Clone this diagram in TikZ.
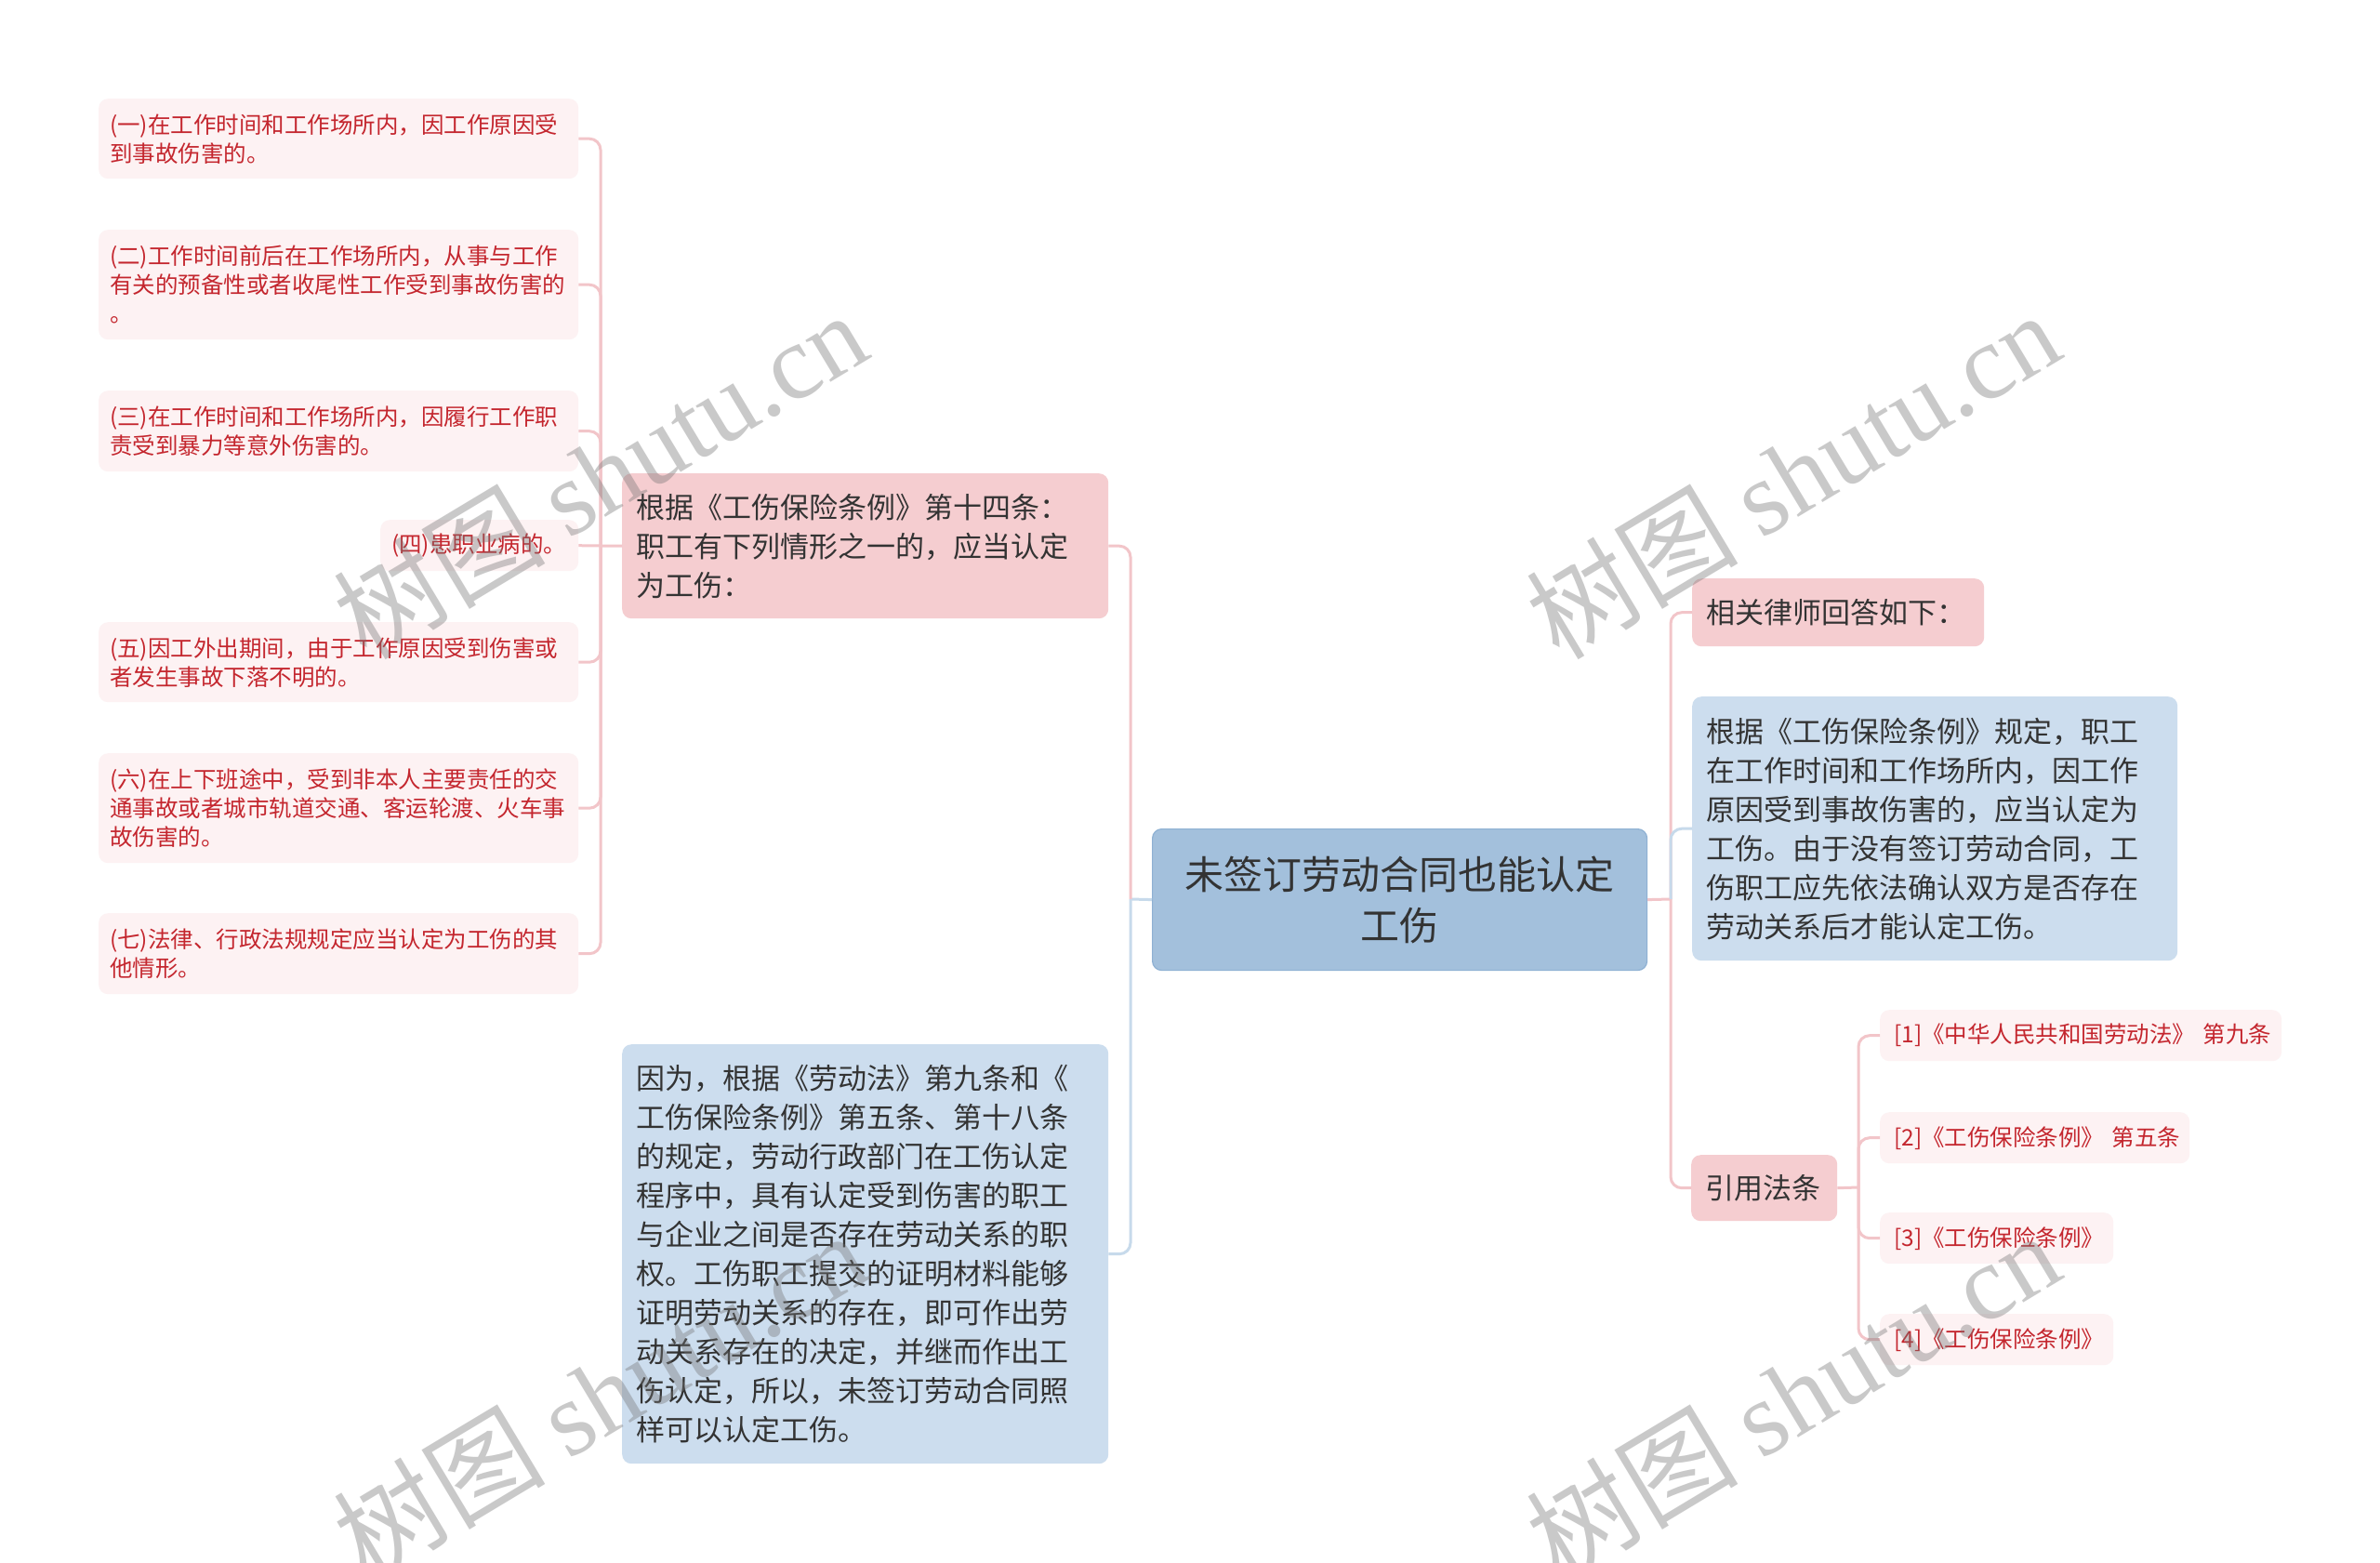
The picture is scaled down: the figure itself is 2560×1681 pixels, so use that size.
\documentclass[tikz,border=0pt]{standalone}
\usepackage{fontspec}
\setmainfont{Noto Sans CJK SC}
\newfontfamily\wmserif{Liberation Serif}
\definecolor{rootfill}{HTML}{A3C0DC}
\definecolor{rootdraw}{HTML}{8FB1D3}
\definecolor{pinkfill}{HTML}{F5CDD0}
\definecolor{bluefill}{HTML}{CCDDEE}
\definecolor{leaffill}{HTML}{FDF2F3}
\definecolor{leaftext}{HTML}{C4262E}
\definecolor{maintext}{HTML}{333333}
\definecolor{pinkline}{HTML}{F2C5C9}
\definecolor{blueline}{HTML}{C7DAEB}
\tikzset{
  basebox/.style={anchor=north west, inner ysep=0pt, align=left, rounded corners=10pt},
  rootbox/.style={basebox, align=center, fill=rootfill, draw=rootdraw, line width=1.2pt,
    inner xsep=20pt, text=maintext, font=\fontsize{42pt}{55pt}\selectfont},
  pinkbox/.style={basebox, fill=pinkfill, inner xsep=15pt, text=maintext,
    font=\fontsize{31pt}{42pt}\selectfont},
  bluebox/.style={basebox, fill=bluefill, inner xsep=15pt, text=maintext,
    font=\fontsize{31pt}{42pt}\selectfont},
  leafbox/.style={basebox, fill=leaffill, inner xsep=12pt, text=leaftext,
    font=\fontsize{24.5pt}{31pt}\selectfont},
  pinkconn/.style={draw=pinkline, line width=3pt, rounded corners=12pt},
  blueconn/.style={draw=blueline, line width=3pt, rounded corners=12pt},
  wmark/.style={rotate=31, text=black!55, text opacity=0.38, font=\fontsize{114pt}{120pt}\selectfont, inner sep=0pt}
}
\begin{document}
\begin{tikzpicture}[x=1pt,y=-1pt]
\useasboundingbox (0,0) rectangle (2560,1681);
\fill[white] (0,0) rectangle (2560,1681);

% root
\node[rootbox, text width=492pt, minimum height=152pt] (root) at (1239,891) {未签订劳动合同也能认定\\工伤};

% left level 1
\node[pinkbox, text width=493pt, minimum height=156pt] (a) at (669,509)
  {根据《工伤保险条例》第十四条：\\职工有下列情形之一的，应当认定\\为工伤：};
\node[bluebox, text width=493pt, minimum height=451pt] (b) at (669,1123)
  {因为，根据《劳动法》第九条和《\\工伤保险条例》第五条、第十八条\\的规定，劳动行政部门在工伤认定\\程序中，具有认定受到伤害的职工\\与企业之间是否存在劳动关系的职\\权。工伤职工提交的证明材料能够\\证明劳动关系的存在，即可作出劳\\动关系存在的决定，并继而作出工\\伤认定，所以，未签订劳动合同照\\样可以认定工伤。};

% left leaves
\node[leafbox, text width=492pt, minimum height=86pt] (l1) at (106,106)
  {(一)在工作时间和工作场所内，因工作原因受\\到事故伤害的。};
\node[leafbox, text width=492pt, minimum height=118pt] (l2) at (106,247)
  {(二)工作时间前后在工作场所内，从事与工作\\有关的预备性或者收尾性工作受到事故伤害的\\。};
\node[leafbox, text width=492pt, minimum height=87pt] (l3) at (106,420)
  {(三)在工作时间和工作场所内，因履行工作职\\责受到暴力等意外伤害的。};
\node[leafbox, text width=189pt, minimum height=55pt] (l4) at (409,559)
  {(四)患职业病的。};
\node[leafbox, text width=492pt, minimum height=86pt] (l5) at (106,669)
  {(五)因工外出期间，由于工作原因受到伤害或\\者发生事故下落不明的。};
\node[leafbox, text width=492pt, minimum height=118pt] (l6) at (106,810)
  {(六)在上下班途中，受到非本人主要责任的交\\通事故或者城市轨道交通、客运轮渡、火车事\\故伤害的。};
\node[leafbox, text width=492pt, minimum height=87pt] (l7) at (106,982)
  {(七)法律、行政法规规定应当认定为工伤的其\\他情形。};

% right level 1
\node[pinkbox, text width=284pt, minimum height=73pt] (r1) at (1820,622) {相关律师回答如下：};
\node[bluebox, text width=492pt, minimum height=284pt] (r2) at (1820,749)
  {根据《工伤保险条例》规定，职工\\在工作时间和工作场所内，因工作\\原因受到事故伤害的，应当认定为\\工伤。由于没有签订劳动合同，工\\伤职工应先依法确认双方是否存在\\劳动关系后才能认定工伤。};
\node[pinkbox, text width=127pt, minimum height=71pt] (r3) at (1819,1242) {引用法条};

% citations
\node[leafbox, inner xsep=15pt, text width=402pt, minimum height=55pt] (c1) at (2022,1086) {[1]《中华人民共和国劳动法》~第九条};
\node[leafbox, inner xsep=15pt, text width=303pt, minimum height=55pt] (c2) at (2022,1196) {[2]《工伤保险条例》~第五条};
\node[leafbox, inner xsep=15pt, text width=221pt, minimum height=55pt] (c3) at (2022,1304) {[3]《工伤保险条例》};
\node[leafbox, inner xsep=15pt, text width=221pt, minimum height=55pt] (c4) at (2022,1413) {[4]《工伤保险条例》};

% junctions
\coordinate (jl) at (1216,967);
\coordinate (jr) at (1797,967);
\coordinate (jt) at (646,587);
\coordinate (jc) at (1999,1277);

% connectors root-left
\draw[blueconn] (root.west) -- (jl);
\draw[pinkconn] (jl) |- (a.east);
\draw[blueconn] (jl) |- (b.east);
% root-right
\draw[pinkconn] (root.east) -- (jr);
\draw[pinkconn] (jr) |- (r1.west);
\draw[blueconn] (jr) |- (r2.west);
\draw[pinkconn] (jr) |- (r3.west);
% leaves
\draw[pinkconn] (a.west) -- (jt);
\draw[pinkconn] (jt) -- (l4.east);
\draw[pinkconn] (jt) |- (l1.east);
\draw[pinkconn] (jt) |- (l2.east);
\draw[pinkconn] (jt) |- (l3.east);
\draw[pinkconn] (jt) |- (l5.east);
\draw[pinkconn] (jt) |- (l6.east);
\draw[pinkconn] (jt) |- (l7.east);
% citations
\draw[pinkconn] (r3.east) -- (jc);
\draw[pinkconn] (jc) |- (c1.west);
\draw[pinkconn] (jc) |- (c2.west);
\draw[pinkconn] (jc) |- (c3.west);
\draw[pinkconn] (jc) |- (c4.west);

% watermarks
\node[wmark] (w1) at (645,510) {树图 {\wmserif shutu.cn}};
\node[wmark] (w2) at (1928,510) {树图 {\wmserif shutu.cn}};
\node[wmark] (w3) at (645,1500) {树图 {\wmserif shutu.cn}};
\node[wmark] (w4) at (1928,1500) {树图 {\wmserif shutu.cn}};
\end{tikzpicture}
\end{document}
